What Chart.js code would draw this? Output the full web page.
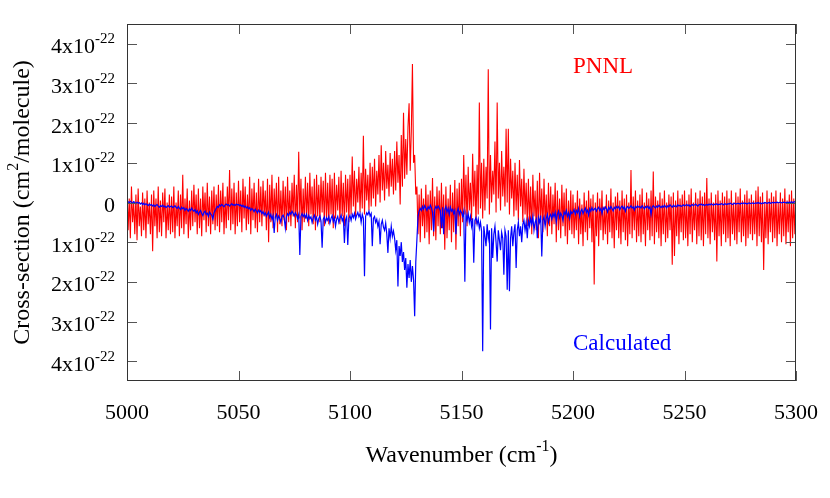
<!DOCTYPE html>
<html>
<head>
<meta charset="utf-8">
<title>PNNL vs Calculated cross-section</title>
<script src="https://cdn.jsdelivr.net/npm/chart.js@4.4.0/dist/chart.umd.min.js"></script>
<style>
  html, body { margin: 0; padding: 0; background: #fff; overflow: hidden; }
  #wrap { width: 830px; height: 498px; }
  #myChart { display: block; }
</style>
</head>
<body>
<div id="wrap"><canvas id="myChart" width="830" height="498"></canvas></div>
<script>
// wavenumber grid (cm-1), one sample every 0.5 cm-1
const waveStart = 5000;
const waveStep = 0.5;

// measured spectrum, units of 1e-22 cm2/molecule (one line = 10 cm-1)
const pnnl = [
  0.3, -0.7, 0.1, -0.9, 0.4, -0.5, 0.0, -0.8, 0.2, -0.95, 0.35, -0.6, -0.1, -0.85, 0.25, -0.7, 0.1, -0.9, 0.3, -0.55,
  0.0, -0.8, 0.2, -1.23, 0.3, -0.6, 0.1, -0.9, 0.4, -0.75, 0.05, -0.85, 0.25, -0.5, 0.35, -0.9, 0.0, -0.7, 0.2, -0.8,
  0.15, -0.75, 0.4, -0.9, 0.0, -0.6, 0.3, -0.85, 0.2, -0.65, 0.7, -0.8, 0.1, -0.55, 0.35, -0.9, 0.05, -0.7, 0.3, -0.6,
  0.45, -0.5, 0.2, -0.8, 0.35, -0.65, 0.1, -0.85, 0.4, -0.45, 0.25, -0.75, 0.5, -0.6, 0.15, -0.8, 0.3, -0.55, 0.4, -0.7,
  0.2, -0.6, 0.45, -0.75, 0.3, -0.5, 0.5, -0.8, 0.15, -0.65, 0.4, -0.45, 0.82, -0.7, 0.35, -0.55, 0.5, -0.8, 0.25, -0.6,
  0.55, -0.5, 0.3, -0.75, 0.6, -0.4, 0.4, -0.7, 0.2, -0.55, 0.65, -0.8, 0.35, -0.45, 0.5, -0.65, 0.25, -0.75, 0.6, -0.5,
  0.4, -0.6, 0.55, -0.35, 0.3, -0.7, 0.6, -1.0, 0.45, -0.5, 0.7, -0.65, 0.35, -0.4, 0.5, -0.75, 0.65, -0.55, 0.3, -0.6,
  0.55, -0.45, 0.4, -0.7, 0.65, -0.5, 0.3, -0.6, 0.5, -0.35, 0.7, -0.65, 0.45, -0.5, 1.28, -0.4, 0.6, -0.7, 0.35, -0.5,
  0.65, -0.4, 0.5, -0.6, 0.75, -0.3, 0.4, -0.55, 0.6, -0.7, 0.7, -0.35, 0.45, -0.5, 0.65, -0.25, 0.55, -0.6, 0.75, -0.45,
  0.5, -0.55, 0.7, -0.3, 0.6, -0.65, 0.75, -0.4, 0.45, -0.2, 0.65, -0.55, 0.8, -0.35, 0.5, -0.6, 0.7, -0.25, 0.6, -0.5,
  0.7, -0.3, 1.16, -0.1, 0.8, -0.35, 0.6, 0.0, 0.9, -0.25, 0.75, -0.15, 1.68, -0.3, 0.85, 0.05, 0.7, -0.2, 1.0, -0.1,
  0.9, 0.1, 1.1, -0.1, 0.8, 0.2, 1.2, 0.0, 1.44, 0.3, 1.0, 0.05, 1.3, 0.35, 0.95, 0.15, 1.25, 0.4, 1.1, 0.2,
  1.3, 0.3, 1.54, 0.5, 1.2, -0.05, 1.7, 0.4, 2.26, 0.6, 1.6, 0.7, 1.9, 2.5, 0.8, 1.8, 3.49, 1.0, 1.2, 0.2,
  0.4, -0.8, 0.2, -1.0, 0.35, -0.6, 0.1, -0.9, 0.45, -0.75, 0.2, -1.05, 0.3, -0.7, 0.62, -0.85, 0.15, -0.95, 0.4, -0.6,
  0.3, -0.8, 0.5, -0.65, 0.2, -1.19, 0.4, -0.9, 0.1, -0.7, 0.45, -1.0, 0.25, -0.75, 0.57, -1.19, 0.35, -0.6, 0.5, -0.85,
  0.6, -0.5, 1.2, -0.3, 0.7, -0.6, 0.9, -0.2, 0.5, -0.45, 1.23, -0.1, 0.8, -0.55, 0.95, -0.3, 2.52, -0.15, 1.0, -0.4,
  1.1, -0.2, 0.9, 0.1, 3.36, -0.3, 1.2, 0.0, 0.8, 0.2, 1.54, -0.25, 2.52, 0.1, 1.0, -0.2, 1.3, 0.15, 0.9, -0.1,
  1.86, 0.0, 1.86, -0.3, 1.1, 0.1, 0.8, -0.35, 1.0, -0.2, 0.7, -0.45, 1.07, -0.1, 0.6, -0.5, 0.85, -0.3, 0.5, -0.6,
  0.6, -0.5, 0.4, -0.8, 0.7, -0.35, 0.3, -0.7, 0.55, -0.9, 0.75, -0.45, 0.35, -0.75, 0.6, -0.55, 0.2, -0.85, 0.5, -0.6,
  0.4, -0.8, 0.2, -0.55, 0.5, -1.0, 0.3, -0.7, 0.1, -0.9, 0.45, -0.6, 0.25, -0.85, 0.35, -1.05, 0.05, -0.7, 0.3, -0.8,
  0.2, -0.9, 0.0, -0.7, 0.3, -1.05, 0.1, -0.8, -0.05, -1.1, 0.25, -0.75, 0.05, -0.95, 0.3, -0.65, 0.1, -1.0, 0.2, -2.07,
  0.0, -0.85, 0.25, -1.1, 0.1, -0.7, 0.3, -0.95, -0.1, -0.8, 0.2, -1.05, 0.05, -0.75, 0.35, -0.9, 0.0, -1.15, 0.15, -0.7,
  0.25, -0.9, 0.05, -1.05, 0.3, -0.75, 0.1, -0.95, 0.2, -1.1, 0.0, -0.8, 0.82, -0.9, 0.15, -0.7, 0.3, -1.0, 0.05, -0.85,
  0.2, -1.0, 0.35, -0.8, 0.0, -1.1, 0.25, -0.7, 0.1, -0.95, 0.3, -0.85, 0.78, -1.05, 0.15, -0.75, 0.05, -0.9, 0.25, -1.1,
  0.1, -0.8, 0.3, -1.0, 0.0, -0.9, 0.2, -0.7, 0.15, -1.57, 0.25, -1.35, 0.05, -0.85, 0.3, -1.05, 0.1, -0.75, 0.2, -0.95,
  0.3, -0.9, 0.05, -1.1, 0.2, -0.8, 0.35, -1.0, 0.0, -0.7, 0.25, -1.05, 0.1, -0.85, 0.3, -0.95, 0.15, -1.1, 0.25, -0.8,
  0.62, -0.9, 0.1, -1.05, 0.25, -0.75, 0.0, -0.95, 0.2, -1.49, 0.3, -0.85, 0.05, -1.1, 0.25, -0.8, 0.15, -1.0, 0.3, -0.9,
  0.1, -1.1, 0.3, -0.8, 0.0, -0.95, 0.25, -1.05, 0.15, -0.75, 0.35, -1.0, 0.05, -0.85, 0.2, -1.1, 0.3, -0.9, 0.1, -0.8,
  0.2, -0.95, 0.05, -0.8, 0.3, -1.1, 0.4, -0.85, 0.15, -1.0, 0.25, -1.7, 0.0, -0.9, 0.3, -1.05, 0.1, -0.75, 0.25, -1.0,
  0.15, -0.9, 0.3, -1.1, 0.0, -0.8, 0.25, -1.0, 0.1, -0.85, 0.35, -1.05, 0.05, -0.75, 0.2, -1.1, 0.3, -0.9, 0.1, -0.8,
  0.2
];

// calculated spectrum, plotted downwards (same units and grid)
const calculated = [
  0.0, 0.02, -0.01, 0.03, 0.01, -0.02, 0.02, 0.0, -0.03, 0.01, -0.02, 0.0, -0.04, -0.01, -0.05, -0.02, -0.06, -0.03, -0.05, -0.08,
  -0.04, -0.07, -0.05, -0.09, -0.06, -0.1, -0.07, -0.05, -0.09, -0.12, -0.08, -0.1, -0.07, -0.11, -0.09, -0.13, -0.1, -0.08, -0.12, -0.1,
  -0.09, -0.13, -0.11, -0.08, -0.12, -0.15, -0.1, -0.14, -0.18, -0.12, -0.16, -0.13, -0.2, -0.15, -0.18, -0.22, -0.16, -0.2, -0.14, -0.19,
  -0.22, -0.18, -0.26, -0.21, -0.3, -0.24, -0.2, -0.28, -0.33, -0.25, -0.22, -0.3, -0.27, -0.35, -0.24, -0.29, -0.32, -0.42, -0.26, -0.2,
  -0.15, -0.1, -0.12, -0.06, -0.09, -0.05, -0.08, -0.11, -0.06, -0.04, -0.07, -0.05, -0.09, -0.06, -0.03, -0.07, -0.05, -0.08, -0.04, -0.06,
  -0.05, -0.08, -0.06, -0.1, -0.07, -0.12, -0.09, -0.14, -0.11, -0.16, -0.13, -0.2, -0.15, -0.18, -0.23, -0.17, -0.21, -0.26, -0.19, -0.24,
  -0.2, -0.28, -0.23, -0.31, -0.26, -0.35, -0.29, -0.24, -0.38, -0.3, -0.42, -0.33, -0.77, -0.36, -0.3, -0.45, -0.34, -0.4, -0.5, -0.35,
  -0.32, -0.4, -0.65, -0.36, -0.28, -0.33, -0.25, -0.3, -0.22, -0.27, -0.34, -0.26, -0.31, -0.4, -0.3, -1.32, -0.35, -0.28, -0.36, -0.3,
  -0.38, -0.3, -0.45, -0.33, -0.41, -0.36, -0.5, -0.38, -0.32, -0.44, -0.37, -0.55, -0.4, -0.34, -0.47, -1.14, -0.42, -0.36, -0.5, -0.39,
  -0.45, -0.35, -0.52, -0.4, -0.33, -0.48, -0.38, -0.6, -0.42, -0.35, -0.5, -0.4, -0.32, -0.46, -0.38, -1.02, -0.44, -0.36, -1.07, -0.4,
  -0.33, -0.45, -0.3, -0.38, -0.27, -0.42, -0.32, -0.25, -0.36, -0.28, -0.5, -0.3, -0.4, -1.86, -0.35, -0.26, -0.31, -0.22, -0.34, -0.28,
  -1.1, -0.4, -0.35, -0.5, -0.42, -0.6, -0.48, -1.05, -0.55, -0.45, -0.62, -0.7, -0.52, -0.8, -1.27, -0.65, -0.9, -0.6, -0.85, -0.72,
  -0.9, -1.2, -0.95, -2.12, -1.1, -1.35, -1.0, -1.5, -1.25, -1.7, -1.4, -2.15, -1.55, -1.9, -1.45, -2.0, -1.6, -1.95, -2.87, -1.5,
  -0.94, -0.35, -0.22, -0.15, -0.2, -0.1, -0.17, -0.08, -0.14, -0.2, -0.11, -0.16, -0.07, -0.13, -0.25, -0.73, -0.18, -0.1, -0.15, -0.09,
  -0.14, -0.2, -0.65, -0.12, -0.8, -0.18, -0.1, -0.25, -0.15, -0.3, -0.12, -0.22, -0.17, -0.28, -0.2, -0.8, -0.24, -0.15, -0.3, -0.2,
  -0.25, -0.35, -0.22, -2.0, -0.3, -0.45, -0.28, -0.5, -0.35, -0.6, -0.4, -1.52, -0.45, -0.38, -0.55, -0.42, -0.65, -0.5, -0.72, -3.75,
  -0.6, -0.85, -1.1, -0.55, -0.9, -0.7, -3.2, -0.65, -1.4, -0.8, -0.6, -1.0, -1.49, -0.7, -0.95, -1.2, -0.75, -0.9, -1.82, -0.7,
  -0.85, -2.2, -0.7, -2.24, -0.9, -0.6, -1.1, -0.75, -0.55, -1.65, -0.7, -0.5, -0.85, -0.6, -1.0, -0.55, -0.45, -0.7, -0.5, -0.9,
  -0.45, -0.6, -0.4, -0.55, -0.35, -0.7, -0.5, -0.42, -0.9, -0.38, -0.5, -0.33, -1.36, -0.45, -0.36, -0.6, -0.4, -0.3, -0.5, -0.35,
  -0.3, -0.42, -0.28, -0.36, -0.25, -0.5, -0.3, -0.22, -0.38, -0.27, -0.33, -0.45, -0.24, -0.3, -0.2, -0.35, -0.26, -0.4, -0.22, -0.28,
  -0.24, -0.18, -0.3, -0.2, -0.26, -0.15, -0.35, -0.22, -0.17, -0.28, -0.2, -0.14, -0.25, -0.19, -0.32, -0.16, -0.22, -0.13, -0.2, -0.17,
  -0.14, -0.22, -0.16, -0.12, -0.2, -0.15, -0.28, -0.13, -0.18, -0.11, -0.16, -0.24, -0.12, -0.17, -0.1, -0.15, -0.21, -0.12, -0.16, -0.1,
  -0.14, -0.1, -0.18, -0.12, -0.09, -0.16, -0.11, -0.22, -0.13, -0.1, -0.15, -0.12, -0.08, -0.14, -0.11, -0.19, -0.1, -0.13, -0.09, -0.12,
  -0.1, -0.14, -0.08, -0.12, -0.16, -0.1, -0.13, -0.09, -0.15, -0.11, -0.3, -0.12, -0.08, -0.11, -0.14, -0.09, -0.12, -0.07, -0.1, -0.13,
  -0.09, -0.12, -0.07, -0.1, -0.13, -0.08, -0.11, -0.06, -0.09, -0.12, -0.07, -0.1, -0.08, -0.11, -0.06, -0.09, -0.07, -0.1, -0.08, -0.06,
  -0.09, -0.07, -0.05, -0.08, -0.06, -0.1, -0.07, -0.05, -0.08, -0.06, -0.04, -0.07, -0.09, -0.05, -0.06, -0.04, -0.07, -0.05, -0.08, -0.06,
  -0.05, -0.07, -0.04, -0.06, -0.03, -0.05, -0.07, -0.04, -0.05, -0.03, -0.06, -0.04, -0.05, -0.03, -0.04, -0.06, -0.03, -0.04, -0.05, -0.03,
  -0.04, -0.02, -0.03, -0.05, -0.03, -0.02, -0.04, -0.03, -0.02, -0.03, -0.04, -0.02, -0.03, -0.01, -0.03, -0.02, -0.04, -0.02, -0.01, -0.03,
  -0.02, -0.01, -0.03, -0.02, -0.01, -0.02, 0.0, -0.02, -0.01, -0.03, -0.01, -0.02, 0.0, -0.01, -0.02, -0.01, 0.0, -0.02, -0.01, 0.0,
  -0.01, 0.0, -0.01, 0.01, -0.01, 0.0, 0.01, -0.01, 0.0, 0.01, 0.0, -0.01, 0.01, 0.0, 0.01, 0.0, 0.02, 0.0, 0.01, 0.02,
  0.01
];

// tick positions
const xTickValues = [5000, 5050, 5100, 5150, 5200, 5250, 5300];
const yTickValues = [-4, -3, -2, -1, 0, 1, 2, 3, 4];

const serif = '"Liberation Serif", "DejaVu Serif", serif';

function toPoints(values) {
    return values.map(function (v, i) {
        return { x: waveStart + i * waveStep, y: v };
    });
}

// draws text made of normal and superscript pieces, align = left|center|right
function drawRich(ctx, parts, x, y, align, size) {
    var mainFont = size + 'px ' + serif;
    var supFont = Math.round(size * 0.68) + 'px ' + serif;
    var raise = Math.round(size * 0.45);
    var total = 0;
    parts.forEach(function (p) {
        ctx.font = p.sup ? supFont : mainFont;
        p.w = ctx.measureText(p.t).width;
        total += p.w;
    });
    var cx = x;
    if (align === 'right') cx = x - total;
    if (align === 'center') cx = x - total / 2;
    ctx.textAlign = 'left';
    ctx.textBaseline = 'alphabetic';
    parts.forEach(function (p) {
        ctx.font = p.sup ? supFont : mainFont;
        ctx.fillText(p.t, cx, p.sup ? y - raise : y);
        cx += p.w;
    });
}

const framePlugin = {
    id: 'frame',
    afterDraw: function (chart) {
        var ctx = chart.ctx;
        var a = chart.chartArea;
        var xs = chart.scales.x, ys = chart.scales.y;
        ctx.save();

        // inward tick marks on all four sides
        ctx.strokeStyle = '#555';
        ctx.lineWidth = 1;
        ctx.beginPath();
        xTickValues.forEach(function (v) {
            var px = Math.round(xs.getPixelForValue(v)) + 0.5;
            ctx.moveTo(px, a.bottom); ctx.lineTo(px, a.bottom - 10);
            ctx.moveTo(px, a.top); ctx.lineTo(px, a.top + 10);
        });
        yTickValues.forEach(function (v) {
            var py = Math.round(ys.getPixelForValue(v)) + 0.5;
            ctx.moveTo(a.left, py); ctx.lineTo(a.left + 10, py);
            ctx.moveTo(a.right, py); ctx.lineTo(a.right - 10, py);
        });
        ctx.stroke();

        // box
        ctx.strokeStyle = '#333';
        ctx.strokeRect(Math.round(a.left) + 0.5, Math.round(a.top) + 0.5,
            Math.round(a.right - a.left) - 1, Math.round(a.bottom - a.top) - 1);

        // y tick labels (magnitude only, as in the original figure)
        ctx.fillStyle = '#000';
        yTickValues.forEach(function (v) {
            var py = ys.getPixelForValue(v) + 9.5;
            if (v === 0) {
                drawRich(ctx, [{ t: '0' }], a.left - 12, py, 'right', 22);
            } else {
                drawRich(ctx, [{ t: Math.abs(v) + 'x10' }, { t: '-22', sup: true }], a.left - 12, py, 'right', 22);
            }
        });

        // axis titles
        drawRich(ctx, [{ t: 'Wavenumber (cm' }, { t: '-1', sup: true }, { t: ')' }],
            (a.left + a.right) / 2, 462, 'center', 24);
        ctx.save();
        ctx.translate(29, (a.top + a.bottom) / 2);
        ctx.rotate(-Math.PI / 2);
        drawRich(ctx, [{ t: 'Cross-section (cm' }, { t: '2', sup: true }, { t: '/molecule)' }], 0, 0, 'center', 24);
        ctx.restore();

        // series labels inside the plot
        ctx.font = '23px ' + serif;
        ctx.textAlign = 'left';
        ctx.textBaseline = 'alphabetic';
        ctx.fillStyle = '#ff0000';
        ctx.fillText('PNNL', xs.getPixelForValue(5200), ys.getPixelForValue(3.26));
        ctx.fillStyle = '#0000ff';
        ctx.fillText('Calculated', xs.getPixelForValue(5200), ys.getPixelForValue(-3.73));

        ctx.restore();
    }
};

var ctx = document.getElementById('myChart').getContext('2d');
var myChart = new Chart(ctx, {
    type: 'line',
    data: {
        datasets: [{
            label: 'Calculated',
            data: toPoints(calculated),
            borderColor: '#0000ff',
            borderWidth: 1.2,
            pointRadius: 0,
            order: 0
        }, {
            label: 'PNNL',
            data: toPoints(pnnl),
            borderColor: '#ff0000',
            borderWidth: 1.1,
            pointRadius: 0,
            order: 1
        }]
    },
    options: {
        responsive: false,
        animation: false,
        devicePixelRatio: 1,
        layout: { padding: { left: 0, right: 34, top: 24, bottom: 0 } },
        elements: { line: { tension: 0 } },
        plugins: { legend: { display: false }, tooltip: { enabled: false } },
        scales: {
            x: {
                type: 'linear',
                min: 5000,
                max: 5300,
                grid: { display: false, drawTicks: false },
                border: { display: false },
                ticks: {
                    stepSize: 50,
                    padding: 19,
                    color: '#000',
                    font: { family: serif, size: 22 },
                    maxRotation: 0,
                    callback: function (v) { return String(v); }
                },
                afterFit: function (scale) {
                    scale.height = 117;
                    scale.paddingLeft = 0;
                    scale.paddingRight = 0;
                }
            },
            y: {
                type: 'linear',
                min: -4.5,
                max: 4.5,
                grid: { display: false, drawTicks: false },
                border: { display: false },
                ticks: { display: false, stepSize: 1 },
                afterFit: function (scale) { scale.width = 127; }
            }
        }
    },
    plugins: [framePlugin]
});
</script>
</body>
</html>
